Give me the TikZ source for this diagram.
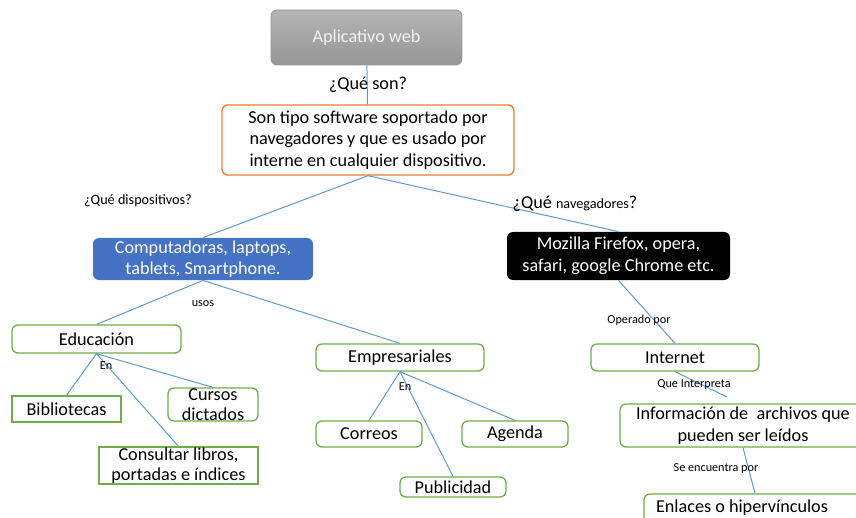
\documentclass[tikz,border=0pt]{standalone}
\usepackage{fontspec}
\setmainfont{Carlito}
\definecolor{linkblue}{RGB}{91,155,213}
\definecolor{boxgreen}{RGB}{112,173,71}
\definecolor{boxorange}{RGB}{237,125,49}
\definecolor{boxblue}{RGB}{68,114,196}
\definecolor{aptop}{RGB}{180,180,180}
\definecolor{apbot}{RGB}{150,150,150}
\newcommand{\mainsize}{\fontsize{9.1}{10.8}\selectfont}
\newcommand{\tightsize}{\fontsize{9.1}{9.8}\selectfont}
\newcommand{\asksize}{\fontsize{7.1}{8.4}\selectfont}
\newcommand{\tinysize}{\fontsize{6.1}{7.2}\selectfont}
\tikzset{
  box/.style={rounded corners=3pt,align=center,inner sep=0pt,font=\mainsize},
  greenbox/.style={box,draw=boxgreen,line width=0.65pt},
  flatbox/.style={greenbox,rounded corners=0pt},
  link/.style={draw=linkblue,line width=0.5pt},
  ask/.style={inner sep=0pt,font=\asksize},
  tiny/.style={inner sep=0pt,font=\tinysize}
}

\begin{document}
\begin{tikzpicture}[x=0.5pt,y=-0.5pt]
        \useasboundingbox (0,0) rectangle (856,518);

        % top part
        \node[box,top color=aptop,bottom color=apbot,draw=apbot,text=white!95!black,
          minimum width=95.5pt,minimum height=27.5pt] (app) at (366.5,37.5) {Aplicativo web};
        \node[box,draw=boxorange,line width=0.7pt,fill=white,
          minimum width=146pt,minimum height=35pt] (def) at (368,140)
          {Son tipo software soportado por\\navegadores y que es usado por\\interne en cualquier dispositivo.};
        \node[box,fill=boxblue,text=white,minimum width=110pt,minimum height=21pt]
          (disp) at (203,259) {Computadoras, laptops,\\tablets, Smartphone.};
        \node[box,fill=black,text=white,minimum width=111.5pt,minimum height=24pt]
          (nav) at (618.5,256) {Mozilla Firefox, opera,\\safari, google Chrome etc.};

        % usos
        \node[greenbox,minimum width=84.5pt,minimum height=14pt] (edu) at (96.5,339) {Educación};
        \node[flatbox,minimum width=54.5pt,minimum height=13pt] (bib) at (66.5,409) {Bibliotecas};
        \node[greenbox,minimum width=45pt,minimum height=16.5pt] (cur) at (213,404.5) {};
        \node[box,font=\tightsize] at (cur) {Cursos\\dictados};
        \node[flatbox,minimum width=79.5pt,minimum height=18.5pt] (lib) at (178.5,465.5) {};
        \node[box,font=\tightsize] at (lib) {Consultar libros,\\portadas e índices};
        \node[greenbox,minimum width=84pt,minimum height=13.5pt] (emp) at (400,357.5) {Empresariales};
        \node[greenbox,minimum width=53pt,minimum height=13pt] (cor) at (369,434) {Correos};
        \node[greenbox,minimum width=53pt,minimum height=13pt] (age) at (515,434) {Agenda};
        \node[greenbox,minimum width=53pt,minimum height=10pt] (pub) at (453,487) {};
        \node[box] at (pub) {Publicidad};

        % navegadores
        \node[greenbox,minimum width=84pt,minimum height=13.5pt] (net) at (675,357.5) {Internet};
        \node[greenbox,minimum width=123pt,minimum height=21.5pt] (info) at (743,425.5) {};
        \node[box] at (info) {Información de~ archivos que\\pueden ser leídos};
        \node[greenbox,minimum width=111pt,minimum height=15pt] (enl) at (755,509) {};
        \node[box] at (742,508) {Enlaces o hipervínculos};
        \coordinate (infotip) at (727,397);

        % connectors
        \draw[link] (app) -- (def);
        \draw[link] (def.south) -- (disp.north);
        \draw[link] (def.south) -- (nav.north);
        \draw[link] (disp.south) -- (edu.north);
        \draw[link] (disp.south) -- (emp.north);
        \draw[link] (edu.south) -- (bib.north);
        \draw[link] (edu.south) -- (cur.north);
        \draw[link] (edu.south) -- (lib.north);
        \draw[link] (emp.south) -- (cor.north);
        \draw[link] (emp.south) -- (pub.north);
        \draw[link] (emp.south) -- (age.north);
        \draw[link] (nav.south) -- (net.north);
        \draw[link] (net.south) -- (infotip);
        \draw[link] (info.south) -- (enl.north);

        % labels
        \node[inner sep=0pt,font=\mainsize] (qson) at (368,85) {¿Qué son?};
        \node[ask] (qdisp) at (138,201) {¿Qué dispositivos?};
        \node[inner sep=0pt,font=\mainsize] (qnav) at (575,204) {¿Qué {\asksize navegadores}?};
        \node[tiny] (usos) at (203,304) {usos};
        \node[tiny] (en1) at (106,366) {En};
        \node[tiny] (en2) at (405,387) {En};
        \node[tiny] (oper) at (639,320) {Operado por};
        \node[tiny] (interp) at (694,385) {Que Interpreta};
        \node[tiny] (encu) at (716,469) {Se encuentra por};
\end{tikzpicture}
\end{document}
